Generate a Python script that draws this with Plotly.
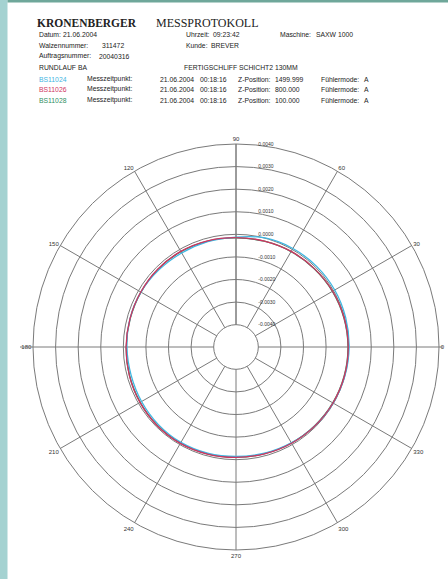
import plotly.graph_objects as go

W, H = 448, 579

# ---- data -------------------------------------------------------------
angles = [0, 15, 30, 45, 60, 75, 90, 105, 120, 135, 150, 165,
          180, 195, 210, 225, 240, 255, 270, 285, 300, 315, 330, 345, 360]

bs11024 = [0.00002, 0.00004, 0.00006, 0.00006, 0.00005, 0.00001, -0.00012,
           -0.00016, -0.00018, -0.00016, -0.00013, -0.00013, -0.00016,
           -0.00018, -0.00016, -0.00013, -0.00011, -0.00012, -0.00014,
           -0.00012, -0.00009, -0.00005, -0.00002, 0.00000, 0.00002]
bs11026 = [-0.00002, -0.00003, -0.00005, -0.00008, -0.00010, -0.00013, -0.00015,
           -0.00012, -0.00010, -0.00010, -0.00012, -0.00013, -0.00012,
           -0.00010, -0.00008, -0.00006, -0.00006, -0.00008, -0.00010,
           -0.00009, -0.00007, -0.00005, -0.00003, -0.00002, -0.00002]
bs11028 = [-0.00003, -0.00004, -0.00006, -0.00009, -0.00011, -0.00014, -0.00016,
           -0.00013, -0.00011, -0.00011, -0.00013, -0.00014, -0.00013,
           -0.00011, -0.00009, -0.00007, -0.00007, -0.00009, -0.00011,
           -0.00010, -0.00008, -0.00006, -0.00004, -0.00003, -0.00003]

series_names = ["BS11024", "BS11026", "BS11028"]
z_positions = ["1499.999", "800.000", "100.000"]
series_colors = ["#3fb6e2", "#cf3560", "#2f8f62"]

angle_ticks = [0, 30, 60, 90, 120, 150, 180, 210, 240, 270, 300, 330]
radial_ticks = [-0.004, -0.003, -0.002, -0.001, 0.0, 0.001, 0.002, 0.003, 0.004]
radial_labels = ["-0.0040", "-0.0030", "-0.0020", "-0.0010", "0.0000",
                 "0.0010", "0.0020", "0.0030", "0.0040"]

# ---- figure -----------------------------------------------------------
def px(x):
    return x / W


def py(y):
    return 1 - y / H


fig = go.Figure()
for name, vals, col in [(series_names[2], bs11028, series_colors[2]),
                        (series_names[0], bs11024, series_colors[0]),
                        (series_names[1], bs11026, series_colors[1])]:
    fig.add_trace(go.Scatterpolar(r=vals, theta=angles, mode="lines", name=name,
                                  line=dict(color=col, width=1.3, shape="spline"),
                                  showlegend=False))

grid = "#7a7a7a"
pad = "\u00a0" * 15
cx, cy, R = 236, 347, 203
fig.update_layout(
    width=W, height=H,
    margin=dict(l=0, r=0, t=0, b=0),
    paper_bgcolor="white",
    polar=dict(
        domain=dict(x=[px(cx - R), px(cx + R)], y=[py(cy + R), py(cy - R)]),
        bgcolor="white",
        hole=0.11,
        radialaxis=dict(range=[-0.004, 0.004], tickvals=radial_ticks,
                        ticktext=[pad + t for t in radial_labels],
                        angle=90, tickangle=90, showline=True, linecolor=grid, linewidth=1,
                        gridcolor=grid, gridwidth=1, ticks="", side="clockwise",
                        tickfont=dict(family="Arial Black, Arial", size=5, color="#333")),
        angularaxis=dict(tickvals=angle_ticks, ticktext=[str(a) for a in angle_ticks],
                         direction="counterclockwise", rotation=0,
                         showline=True, linecolor=grid, linewidth=1,
                         gridcolor=grid, gridwidth=1, ticks="",
                         tickfont=dict(family="Arial", size=6, color="#333")),
    ),
)

shapes = [
    dict(type="rect", xref="paper", yref="paper", x0=0, x1=px(7.5), y0=0, y1=1,
         fillcolor="#a4d2d1", line=dict(width=0), layer="above"),
    dict(type="rect", xref="paper", yref="paper", x0=px(7.5), x1=1, y0=py(2.5), y1=1,
         fillcolor="#6fa79a", line=dict(width=0), layer="above"),
    dict(type="line", xref="paper", yref="paper", x0=px(20), x1=px(cx - R), y0=py(cy), y1=py(cy),
         line=dict(color=grid, width=1)),
    dict(type="line", xref="paper", yref="paper", x0=px(cx + R), x1=px(443), y0=py(cy), y1=py(cy),
         line=dict(color=grid, width=1)),
]
fig.update_layout(shapes=shapes)

ann = []


def txt(x, y, s, size=6.8, color="#222", family="Arial", bold=False):
    if bold:
        s = "<b>" + s + "</b>"
    ann.append(dict(x=px(x), y=py(y), xref="paper", yref="paper", text=s, showarrow=False,
                    xanchor="left", yanchor="middle",
                    font=dict(size=size, color=color, family=family)))


txt(35, 22.8, "KRONENBERGER", size=11.5, family="Liberation Serif", bold=True)
txt(154, 22.8, "MESSPROTOKOLL", size=12, family="Liberation Serif")
txt(37, 34.8, "Datum:")
txt(61, 34.8, "21.06.2004")
txt(184, 34.8, "Uhrzeit:")
txt(211, 34.8, "09:23:42")
txt(278, 34.8, "Maschine:")
txt(314, 34.8, "SAXW 1000")
txt(37, 45.5, "Walzennummer:")
txt(100, 45.5, "311472")
txt(184, 45.5, "Kunde:")
txt(209, 45.5, "BREVER")
txt(37, 56.5, "Auftragsnummer:")
txt(97, 56.5, "20040316")
txt(37, 67.5, "RUNDLAUF BA")
txt(182, 67.5, "FERTIGSCHLIFF SCHICHT2 130MM")
for i, (nm, zp, col) in enumerate(zip(series_names, z_positions, series_colors)):
    y = 79 + i * 10.5
    txt(37, y, nm, color=col)
    txt(85, y, "Messzeitpunkt:")
    txt(158, y, "21.06.2004")
    txt(198, y, "00:18:16")
    txt(236, y, "Z-Position:")
    txt(273, y, zp)
    txt(319, y, "Fühlermode:")
    txt(362, y, "A")
fig.update_layout(annotations=ann)

fig.write_html("out.html", config={"displayModeBar": False},
               post_script="document.body.style.margin='0';document.body.style.overflow='hidden';")
